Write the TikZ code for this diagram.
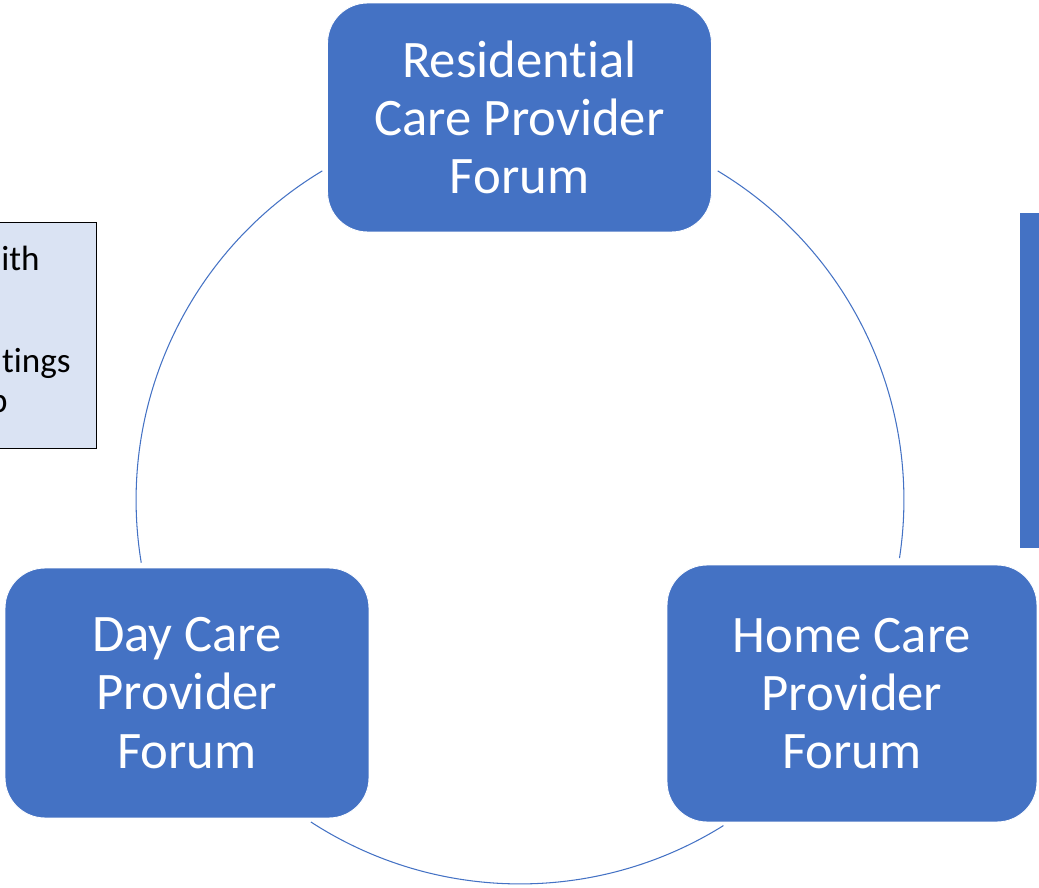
\documentclass[tikz,border=0pt]{standalone}
\usepackage{fontspec}
\setmainfont{Carlito}[Ligatures=NoCommon]
\definecolor{forumblue}{HTML}{4472C4}
\definecolor{notefill}{HTML}{DAE3F3}
\begin{document}
\begin{tikzpicture}[x=0.02cm,y=-0.02cm,
    forum/.style={rectangle,rounded corners=0.8cm,fill=forumblue,draw=white,line width=0.5pt,
      text=white,align=center,font=\fontsize{30}{33.2}\selectfont},
    cycle/.style={draw=forumblue,line width=0.6pt},
    note/.style={rectangle,fill=notefill,draw=black,line width=0.8pt},
    notetext/.style={inner sep=0pt,anchor=base east,font=\fontsize{20}{24}\selectfont}]
  \useasboundingbox (0,0) rectangle (1039,888);
  \clip (0,0) rectangle (1039,888);
  \coordinate (ctr) at (520,500);
  \draw
    (519.5,117.5) node[forum,minimum width=7.68cm,minimum height=4.58cm] (res){Residential\\Care Provider\\Forum}
    (187,693) node[forum,minimum width=7.28cm,minimum height=5.0cm] (day){Day Care\\Provider\\Forum}
    (852,693.5) node[forum,minimum width=7.4cm,minimum height=5.14cm] (home){Home Care\\Provider\\Forum};
  \begin{scope}[cycle]
    \draw ([shift={(59:7.68cm)}]ctr) arc[start angle=59,end angle=-8.7,radius=7.68cm];
    \draw ([shift={(237:7.68cm)}]ctr) arc[start angle=237,end angle=302,radius=7.68cm];
    \draw ([shift={(121:7.68cm)}]ctr) arc[start angle=121,end angle=189.4,radius=7.68cm];
  \end{scope}
  % cut-off shapes at the edges
  \node[note,anchor=north east,minimum width=6cm,minimum height=4.52cm] (memo) at (97,222) {};
  \node[notetext] (l1) at (40,271) {ith};
  \node[notetext] (l2) at (71,373) {tings};
  \node[notetext] (l3) at (8,413) {p};
  \fill[forumblue] (1020,213) rectangle (1045,548);
\end{tikzpicture}
\end{document}
